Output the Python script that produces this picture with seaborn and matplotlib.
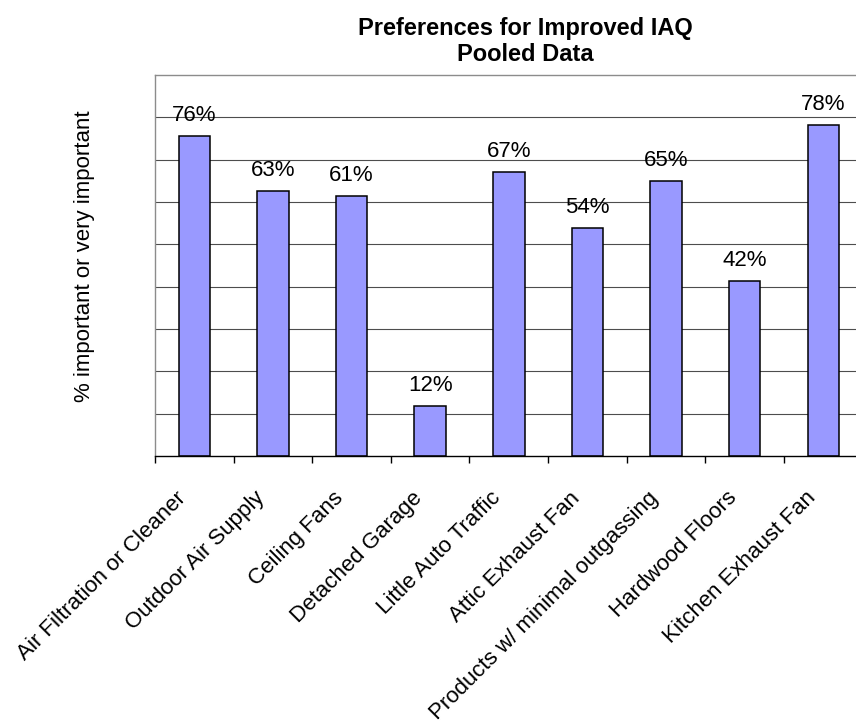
import matplotlib
matplotlib.use('Agg')
import matplotlib.pyplot as plt
import matplotlib.transforms as mtransforms
import numpy as np
import pandas as pd
import seaborn as sns

categories = ['Air Filtration or Cleaner', 'Outdoor Air Supply', 'Ceiling Fans',
              'Detached Garage', 'Little Auto Traffic', 'Attic Exhaust Fan',
              'Products w/ minimal outgassing', 'Hardwood Floors',
              'Kitchen Exhaust Fan']
values = [75.7, 62.6, 61.3, 11.8, 67.1, 53.8, 64.9, 41.4, 78.1]
labels = ['76%', '63%', '61%', '12%', '67%', '54%', '65%', '42%', '78%']

sns.set_style('white')
plt.rcParams['font.family'] = ['Liberation Sans', 'DejaVu Sans']
plt.rcParams['text.color'] = 'black'
plt.rcParams['xtick.color'] = 'black'
plt.rcParams['xtick.labelcolor'] = 'black'

W, H = 856, 721
fig = plt.figure(figsize=(W / 100, H / 100), dpi=100)
ax = fig.add_axes([155 / W, (H - 456) / H, (862.6 - 155) / W, (456 - 75) / H])

df = pd.DataFrame({'Item': categories, 'Pct': values})
sns.barplot(data=df, x='Item', y='Pct', ax=ax, color='#9999ff',
            saturation=1, width=0.4, edgecolor='black', linewidth=1.1,
            zorder=3)

ax.set_xlim(-0.5, len(categories) - 0.5)
ax.set_ylim(0, 90)
ax.set_yticks(np.arange(10, 90, 10))
ax.set_yticklabels([])
ax.tick_params(axis='y', length=0)
ax.grid(axis='y', color='#4d4d4d', linewidth=0.8, zorder=0)
ax.grid(axis='x', visible=False)
ax.set_xlabel('')
ax.set_ylabel('')

for s in ['top', 'left', 'right']:
    ax.spines[s].set_color('#8c8c8c')
    ax.spines[s].set_linewidth(1.0)
ax.spines['bottom'].set_color('black')
ax.spines['bottom'].set_linewidth(1.0)
ax.spines['bottom'].set_zorder(4)

# tick marks between categories, labels under bar centres
ax.set_xticks(np.arange(-0.5, len(categories) - 0.5, 1.0), minor=True)
ax.tick_params(axis='x', which='minor', bottom=True, length=5, width=1.0,
               color='black', direction='out')
ax.tick_params(axis='x', which='major', bottom=True, length=0, pad=28,
               labelsize=16, labelcolor='black')
shift = mtransforms.ScaledTranslation(-11 / 100, 0, fig.dpi_scale_trans)
for t in ax.get_xticklabels():
    t.set_rotation(45)
    t.set_ha('right')
    t.set_va('center')
    t.set_rotation_mode('anchor')
    t.set_transform(t.get_transform() + shift)

for i, (v, lab) in enumerate(zip(values, labels)):
    ax.annotate(lab, (i, v), xytext=(0, 10.8), textcoords='offset points',
                ha='center', va='baseline', fontsize=16, color='black')

fig.text(85 / W, (H - 256) / H, '% important or very important',
         rotation=90, ha='center', va='center', fontsize=16, color='black')
fig.text(525 / W, (H - 61) / H, 'Preferences for Improved IAQ\nPooled Data',
         ha='center', va='baseline', fontsize=17, fontweight='bold',
         linespacing=1.15, color='black')

fig.savefig('out.png', dpi=100)
